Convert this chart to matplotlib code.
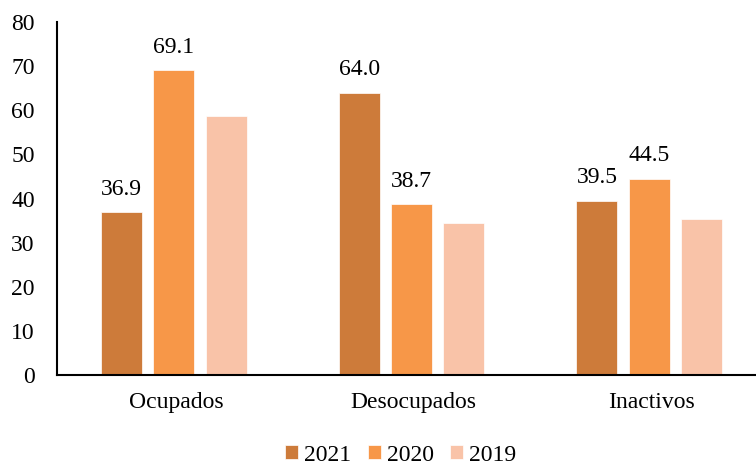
import matplotlib.pyplot as plt
import numpy as np

plt.rcParams['font.family'] = ['Liberation Serif', 'DejaVu Serif']

categories = ["Ocupados", "Desocupados", "Inactivos"]
years = ["2021", "2020", "2019"]
v2021 = [36.9, 64.0, 39.5]
v2020 = [69.1, 38.7, 44.5]
v2019 = [58.8, 34.4, 35.3]
colors = ["#CD7B3A", "#F79748", "#F9C3A8"]

fig = plt.figure(figsize=(7.56, 4.66), dpi=100)
ax = fig.add_axes([0.0754, 0.195, 0.943, 0.758])

x = np.arange(len(categories))
width = 0.172
step = 0.22

series = [v2021, v2020, v2019]
bars = []
for i, vals in enumerate(series):
    b = ax.bar(x + (i - 1) * step - 0.008, vals, width, color=colors[i], label=years[i],
               edgecolor="white", linewidth=0.5)
    bars.append(b)

## only the two most recent years carry labels
for b in bars[:2]:
    ax.bar_label(b, fmt="%.1f", padding=9, fontsize=17)

ax.set_xlim(-0.5, 2.5)
ax.set_ylim(0, 80)
ax.set_yticks(np.arange(0, 81, 10))
ax.set_xticks(x)
ax.set_xticklabels(categories)
ax.tick_params(axis="both", length=0, labelsize=17)
ax.tick_params(axis="x", pad=12)
ax.tick_params(axis="y", pad=16)

for s in ["top", "right"]:
    ax.spines[s].set_visible(False)
for s in ["left", "bottom"]:
    ax.spines[s].set_linewidth(1.5)

fig.legend(loc="lower center", bbox_to_anchor=(0.53, -0.045), ncol=3, frameon=False,
           fontsize=17, handlelength=0.55, handleheight=0.55, handletextpad=0.25,
           columnspacing=0.7)

plt.savefig("out.png")
